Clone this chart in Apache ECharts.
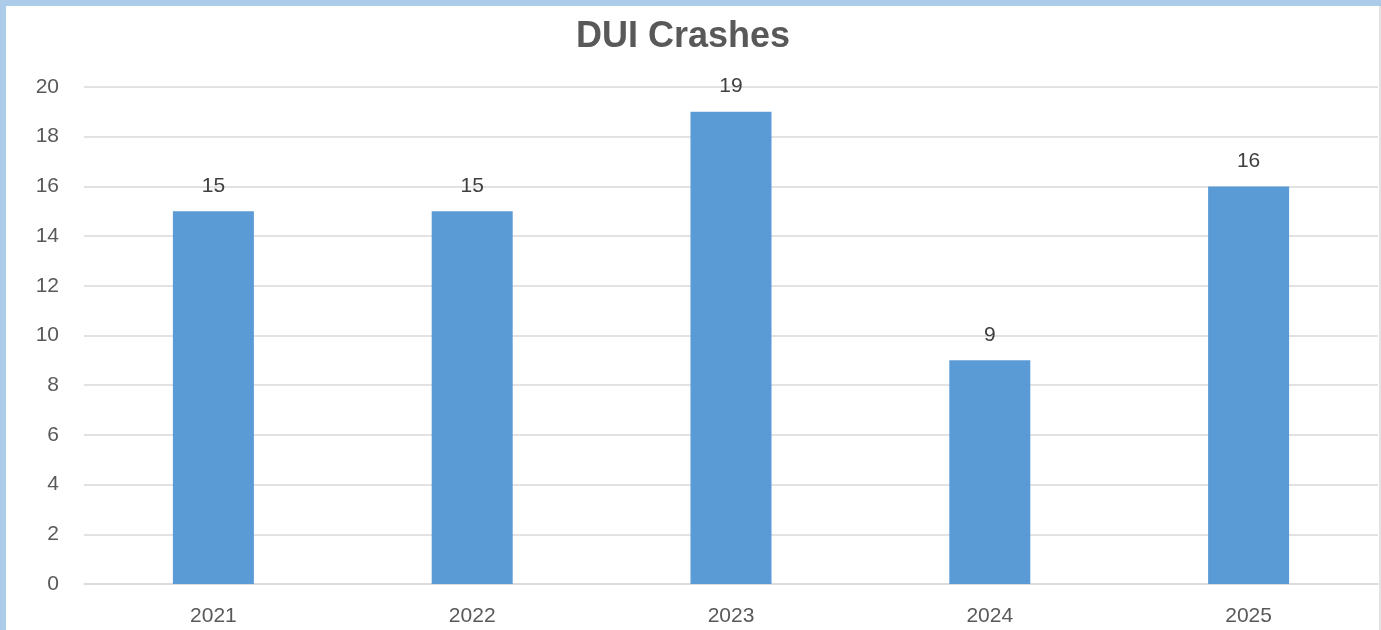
<!DOCTYPE html>
<html>
<head>
<meta charset="utf-8">
<title>DUI Crashes</title>
<script src="https://cdn.jsdelivr.net/npm/echarts@6/dist/echarts.min.js"></script>
<style>
    html, body {
        margin: 0;
        padding: 0;
        width: 1381px;
        height: 630px;
        overflow: hidden;
        background: #abcbe9;
    }
    .chart-wrap {
        position: absolute;
        left: 6px;
        top: 6px;
        width: 1373px;
        height: 624px;
        background: #fff;
        border-right: 2px solid #e2e2e2;
    }
    #chart {
        width: 1373px;
        height: 624px;
    }
</style>
</head>
<body>
<div class="chart-wrap"><div id="chart"></div></div>
<script>
const years = ['2021', '2022', '2023', '2024', '2025'];
const crashes = [15, 15, 19, 9, 16];
const yTicks = { min: 0, max: 20, interval: 2 };

const FONT = '"Liberation Sans", Arial, sans-serif';

function getOption() {
    return {
        animation: false,
        title: {
            text: 'DUI Crashes',
            left: 565,
            top: 8,
            textStyle: {
                fontFamily: FONT,
                fontSize: 36,
                fontWeight: 'bold',
                color: '#595959'
            }
        },
        grid: {
            left: 78,
            right: 1,
            top: 81,
            bottom: 46
        },
        xAxis: {
            type: 'category',
            data: years,
            axisLine: { lineStyle: { color: '#d9d9d9', width: 1.5 } },
            axisTick: { show: false },
            axisLabel: {
                color: '#595959',
                fontFamily: FONT,
                fontSize: 21,
                margin: 22
            }
        },
        yAxis: {
            type: 'value',
            min: yTicks.min,
            max: yTicks.max,
            interval: yTicks.interval,
            axisLine: { show: false },
            axisTick: { show: false },
            splitLine: { lineStyle: { color: '#d9d9d9', width: 1.5 } },
            axisLabel: {
                color: '#595959',
                fontFamily: FONT,
                fontSize: 21,
                margin: 25
            }
        },
        series: [
            {
                name: 'DUI Crashes',
                type: 'bar',
                barWidth: '31.3%',
                data: crashes,
                itemStyle: { color: '#5b9bd5' },
                label: {
                    show: true,
                    position: 'top',
                    distance: 15,
                    color: '#404040',
                    fontFamily: FONT,
                    fontSize: 21
                }
            }
        ]
    };
}

let chart = echarts.init(document.getElementById('chart'));
chart.setOption(getOption());
</script>
</body>
</html>
